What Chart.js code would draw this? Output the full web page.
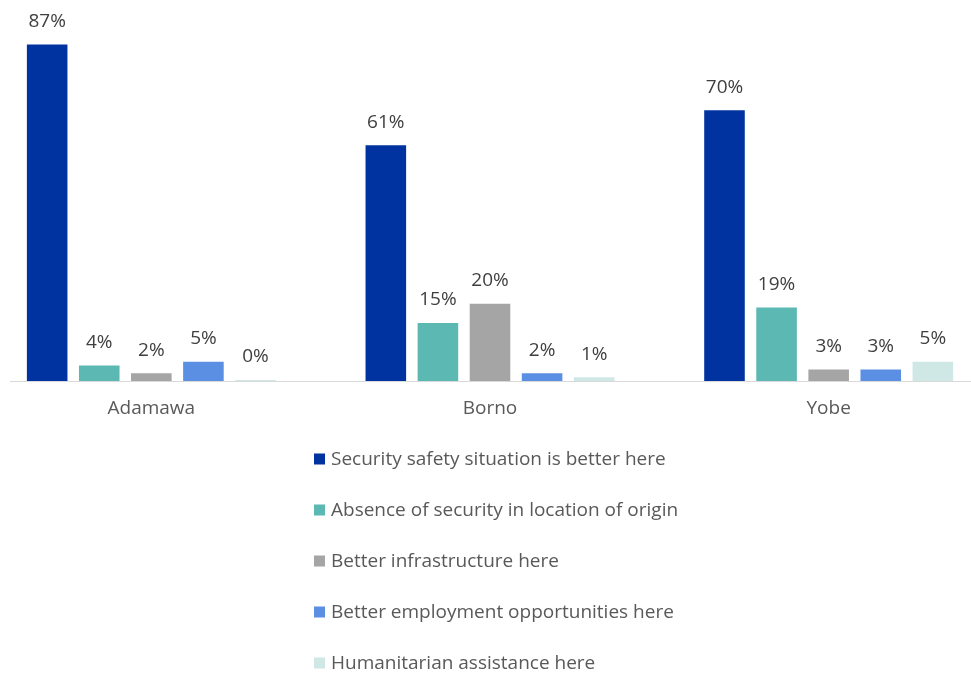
<!DOCTYPE html>
<html>
<head>
<meta charset="utf-8">
<script src="https://cdn.jsdelivr.net/npm/chart.js@4/dist/chart.umd.min.js"></script>
<style>
  html, body { margin: 0; padding: 0; background: #fff; overflow: hidden; width: 971px; height: 673px; }
  #wrap { position: absolute; left: -18px; top: 0; width: 1016px; height: 673px; }
</style>
</head>
<body>
<div id="wrap"><canvas id="c" width="1016" height="673"></canvas></div>
<script>
// Reasons for choosing current location, by state (% of respondents)
const states = ['Adamawa', 'Borno', 'Yobe'];
const reasons = [
  'Security safety situation is better here',
  'Absence of security in location of origin',
  'Better infrastructure here',
  'Better employment opportunities here',
  'Humanitarian assistance here'
];
const securityBetter   = [87, 61, 70];
const noSecurityOrigin = [4, 15, 19];
const infrastructure   = [2, 20, 3];
const employment       = [5, 2, 3];
const assistance       = [0, 1, 5];

const palette = ['#0033A0', '#5BB8B2', '#A5A5A5', '#5B8FE3', '#CFE8E6'];
const FONT = '"Open Sans", "Noto Sans", sans-serif';
const FONT_SIZE = 19;

const seriesValues = [securityBetter, noSecurityOrigin, infrastructure, employment, assistance];

// Percent labels above each bar
const valueLabels = {
  id: 'valueLabels',
  afterDatasetsDraw(chart) {
    const ctx = chart.ctx;
    ctx.save();
    ctx.font = FONT_SIZE + 'px ' + FONT;
    ctx.fillStyle = '#404040';
    ctx.textAlign = 'center';
    ctx.textBaseline = 'middle';
    chart.data.datasets.forEach((ds, i) => {
      chart.getDatasetMeta(i).data.forEach((bar, j) => {
        ctx.fillText(ds.data[j] + '%', bar.x, bar.y - 23);
      });
    });
    ctx.restore();
  }
};

// Category axis baseline
const baseline = {
  id: 'baseline',
  beforeDatasetsDraw(chart) {
    const ctx = chart.ctx, a = chart.chartArea;
    ctx.save();
    ctx.strokeStyle = '#D9D9D9';
    ctx.lineWidth = 1.2;
    ctx.beginPath();
    ctx.moveTo(28, a.bottom + 0.5);
    ctx.lineTo(a.right, a.bottom + 0.5);
    ctx.stroke();
    ctx.restore();
  }
};

// Vertical legend underneath the plot
const stackedLegend = {
  id: 'stackedLegend',
  afterDraw(chart) {
    const ctx = chart.ctx;
    const x0 = 332, y0 = 459, step = 51, box = 11;
    ctx.save();
    ctx.font = FONT_SIZE + 'px ' + FONT;
    ctx.textBaseline = 'middle';
    ctx.textAlign = 'left';
    chart.data.datasets.forEach((ds, i) => {
      const y = y0 + i * step;
      ctx.fillStyle = ds.backgroundColor;
      ctx.fillRect(x0, y - box / 2, box, box);
      ctx.fillStyle = '#595959';
      ctx.fillText(ds.label, x0 + box + 6, y + 1);
    });
    ctx.restore();
  }
};

new Chart(document.getElementById('c'), {
  type: 'bar',
  data: {
    labels: states,
    datasets: reasons.map((r, i) => ({
      label: r,
      data: seriesValues[i],
      backgroundColor: palette[i],
      categoryPercentage: 0.769,
      barPercentage: 0.779,
      minBarLength: 1
    }))
  },
  options: {
    responsive: false,
    animation: false,
    layout: { padding: { top: 33, bottom: 254, left: 0, right: 0 } },
    plugins: { legend: { display: false }, tooltip: { enabled: false } },
    scales: {
      x: {
        grid: { display: false, drawTicks: false },
        border: { display: false },
        ticks: { color: '#595959', font: { family: FONT, size: FONT_SIZE }, padding: 16 },
        afterFit(s) { s.height = 38; }
      },
      y: { display: false, min: 0, max: 90 }
    }
  },
  plugins: [baseline, valueLabels, stackedLegend]
});
</script>
</body>
</html>
